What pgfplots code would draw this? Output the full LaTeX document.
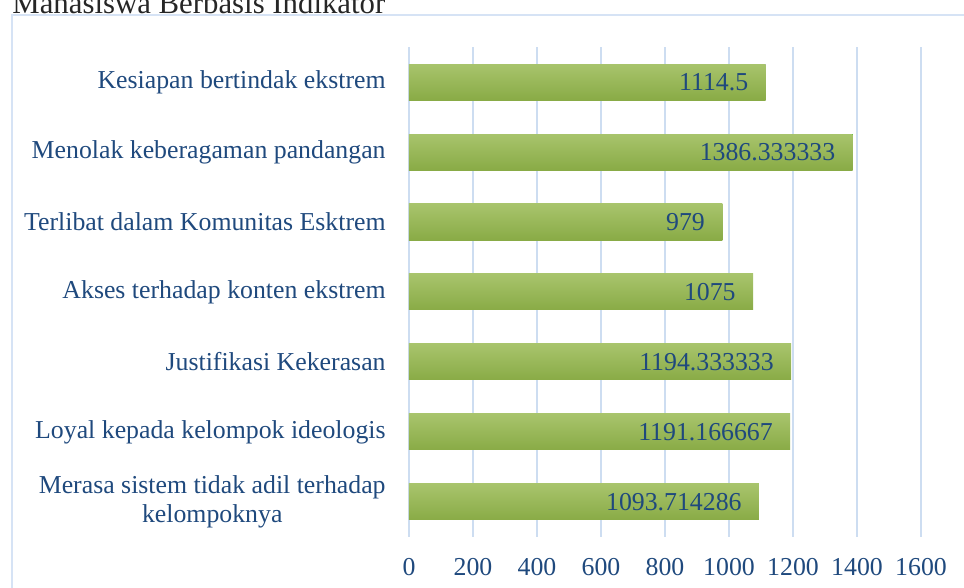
\documentclass[border=0pt]{standalone}
\usepackage{fontspec}
\setmainfont{Liberation Serif}
\usepackage{pgfplots}
\pgfplotsset{compat=1.18}
\definecolor{lblblue}{RGB}{31,73,125}
\definecolor{gridblue}{RGB}{205,221,241}
\definecolor{frameblue}{RGB}{214,227,245}
\definecolor{barTop}{RGB}{168,196,108}
\definecolor{barMid}{RGB}{155,187,89}
\definecolor{barBot}{RGB}{137,171,70}
\begin{document}
\begin{tikzpicture}
\useasboundingbox (0,0) rectangle (482pt,294pt);
\clip (0,0) rectangle (482pt,294pt);
\draw[frameblue, line width=1pt] (5.75pt,286.5pt) rectangle (495pt,-10pt);
\node[anchor=base west, inner sep=0pt, font=\fontsize{15.4}{18}\selectfont, text=black!85] at (6pt,287.3pt) {Mahasiswa Berbasis Indikator};
\begin{axis}[
  at={(204.5pt,25.5pt)}, anchor=south west,
  scale only axis, width=256pt, height=245pt,
  xmin=0, xmax=1600, ymin=-0.5, ymax=6.5,
  axis line style={draw=none},
  major tick length=0pt,
  xtick={0,200,...,1600},
  ytick={0,...,6},
  yticklabels={{Merasa sistem tidak adil terhadap\\kelompoknya},Loyal kepada kelompok ideologis,Justifikasi Kekerasan,Akses terhadap konten ekstrem,Terlibat dalam Komunitas Esktrem,Menolak keberagaman pandangan,Kesiapan bertindak ekstrem},
  xmajorgrids, grid style={gridblue, line width=1pt},
  ymajorgrids=false,
  /pgf/number format/.cd, 1000 sep={}, assume math mode=true, /pgfplots/.cd,
  xticklabel style={font=\fontsize{12.9}{14}\selectfont, text=lblblue, anchor=north, inner sep=0pt, yshift=-10.6pt},
  yticklabel style={font=\fontsize{12.9}{14.5}\selectfont, text=lblblue, anchor=east, inner sep=0pt, xshift=-11.5pt, align=center},
  xbar, bar width=18pt, bar shift=0pt,
  nodes near coords, point meta=explicit symbolic,
  every node near coord/.append style={anchor=east, inner sep=0pt, xshift=-8.5pt, font=\fontsize{12.9}{14}\selectfont, text=lblblue},
  every axis plot/.append style={draw=none, top color=barTop, middle color=barMid, bottom color=barBot},
]
\addplot coordinates {(1093.714286,0) [1093.714286]};
\addplot coordinates {(1191.166667,1) [1191.166667]};
\addplot coordinates {(1194.333333,2) [1194.333333]};
\addplot coordinates {(1075,3) [1075]};
\addplot coordinates {(979,4) [979]};
\addplot coordinates {(1386.333333,5) [1386.333333]};
\addplot coordinates {(1114.5,6) [1114.5]};
\end{axis}
\end{tikzpicture}
\end{document}
